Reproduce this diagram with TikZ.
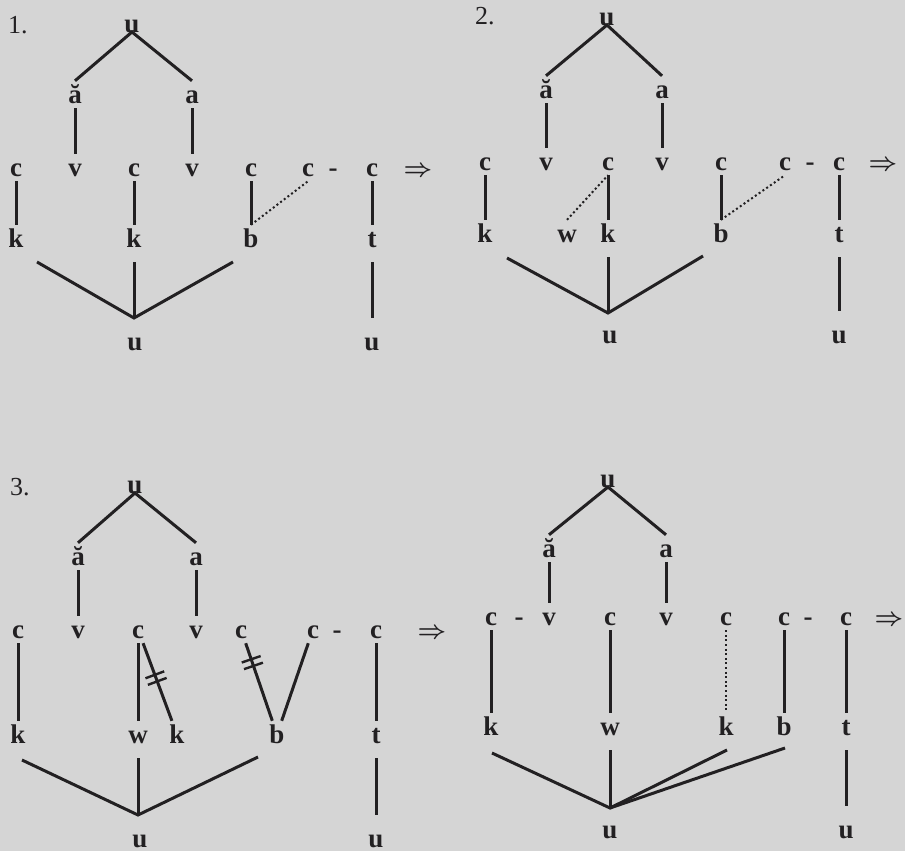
\documentclass[tikz,border=0pt]{standalone}
\usepackage{bm}
\usepackage{fontspec}
\setmainfont{Liberation Serif}
\usetikzlibrary{decorations.markings}
\definecolor{paper}{RGB}{213,213,213}
\definecolor{ink}{RGB}{34,32,34}
\newcommand{\impl}{{\fontsize{30}{30}\selectfont$\bm{\Rightarrow}$}}

\begin{document}
\begin{tikzpicture}[x=1pt, y=-1pt,
  seg/.style={anchor=base, text=ink, font=\fontsize{27}{30}\selectfont\bfseries,
    text height=17pt, text depth=0pt, inner xsep=1pt, inner ysep=5pt},
  num/.style={anchor=base west, text=ink, font=\fontsize{26}{30}\selectfont, inner sep=0pt},
  ln/.style={draw=ink, line width=3pt},
  dotline/.style={draw=ink, line width=2pt, dash pattern=on 2pt off 2.6pt},
  delink/.style={postaction={decorate}, decoration={markings,
    mark=at position #1 with {\draw[ink, line width=2.4pt]
      (-3.5pt,-10pt) -- (-3.5pt,10pt) (3.5pt,-10pt) -- (3.5pt,10pt);}}}
]
\fill[paper] (0,0) rectangle (905,851);
% Panel 1
\node[num] (N1) at (8,33) {1.};
\node[seg] (U1) at (132,32) {u};
\node[seg] (A1a) at (75,103) {ă};
\node[seg] (A1b) at (192,103) {a};
\node[seg] (C1a) at (16,176) {c};
\node[seg] (V1a) at (75,176) {v};
\node[seg] (C1b) at (134,176) {c};
\node[seg] (V1b) at (192,176) {v};
\node[seg] (C1c) at (251,176) {c};
\node[seg] (C1d) at (308,176) {c};
\node[seg] (H1) at (333,176) {-};
\node[seg] (C1e) at (372,176) {c};
\node[seg] (R1) at (418,176) {\impl};
\node[seg] (K1a) at (16,247) {k};
\node[seg] (K1b) at (134,247) {k};
\node[seg] (B1) at (251,247) {b};
\node[seg] (T1) at (372,247) {t};
\node[seg] (D1a) at (135,350) {u};
\node[seg] (D1b) at (372,350) {u};
\coordinate (P1) at (134,318);
\coordinate (E1a) at (37,262);
\coordinate (E1b) at (233,262);
\draw[ln] (A1a.north) -- (U1.base) -- (A1b.north);
\draw[ln] (A1a) -- (V1a);
\draw[ln] (A1b) -- (V1b);
\draw[ln] (C1a) -- (K1a);
\draw[ln] (C1b) -- (K1b);
\draw[ln] (C1c) -- (B1);
\draw[ln] (C1e) -- (T1);
\draw[dotline] (B1.north) -- (C1d.south);
\draw[ln] (E1a) -- (P1) -- (E1b);
\draw[ln, shorten <=10pt] (K1b) -- (P1);
\draw[ln, shorten <=10pt, shorten >=10pt] (T1) -- (D1b);
% Panel 2
\node[num] (N2) at (475,24) {2.};
\node[seg] (U2) at (607,25) {u};
\node[seg] (A2a) at (546,98) {ă};
\node[seg] (A2b) at (662,98) {a};
\node[seg] (C2a) at (485,170) {c};
\node[seg] (V2a) at (546,170) {v};
\node[seg] (C2b) at (608,170) {c};
\node[seg] (V2b) at (662,170) {v};
\node[seg] (C2c) at (721,170) {c};
\node[seg] (C2d) at (785,170) {c};
\node[seg] (H2) at (810,170) {-};
\node[seg] (C2e) at (839,170) {c};
\node[seg] (R2) at (883,170) {\impl};
\node[seg] (K2a) at (485,242) {k};
\node[seg] (W2) at (567,242) {w};
\node[seg] (K2b) at (608,242) {k};
\node[seg] (B2) at (721,242) {b};
\node[seg] (T2) at (839,242) {t};
\node[seg] (D2a) at (610,343) {u};
\node[seg] (D2b) at (839,343) {u};
\coordinate (P2) at (608,313);
\coordinate (E2a) at (507,258);
\coordinate (E2b) at (703,256);
\draw[ln] (A2a.north) -- (U2.base) -- (A2b.north);
\draw[ln] (A2a) -- (V2a);
\draw[ln] (A2b) -- (V2b);
\draw[ln] (C2a) -- (K2a);
\draw[ln] (C2b) -- (K2b);
\draw[ln] (C2c) -- (B2);
\draw[ln] (C2e) -- (T2);
\draw[dotline] (W2.north) -- (C2b.south);
\draw[dotline] (B2.north) -- (C2d.south);
\draw[ln] (E2a) -- (P2) -- (E2b);
\draw[ln, shorten <=10pt] (K2b) -- (P2);
\draw[ln, shorten <=10pt, shorten >=10pt] (T2) -- (D2b);
% Panel 3
\node[num] (N3) at (10,495) {3.};
\node[seg] (U3) at (135,493) {u};
\node[seg] (A3a) at (78,565) {ă};
\node[seg] (A3b) at (196,565) {a};
\node[seg] (C3a) at (18,638) {c};
\node[seg] (V3a) at (78,638) {v};
\node[seg] (C3b) at (138,638) {c};
\node[seg] (V3b) at (196,638) {v};
\node[seg] (C3c) at (241,638) {c};
\node[seg] (C3d) at (313,638) {c};
\node[seg] (H3) at (337,638) {-};
\node[seg] (C3e) at (376,638) {c};
\node[seg] (R3) at (432,638) {\impl};
\node[seg] (K3a) at (18,743) {k};
\node[seg] (W3) at (138,743) {w};
\node[seg] (K3b) at (177,743) {k};
\node[seg] (B3) at (277,743) {b};
\node[seg] (T3) at (376,743) {t};
\node[seg] (D3a) at (140,847) {u};
\node[seg] (D3b) at (376,847) {u};
\coordinate (P3) at (138,815);
\coordinate (E3a) at (22,760);
\coordinate (E3b) at (258,757);
\draw[ln] (A3a.north) -- (U3.base) -- (A3b.north);
\draw[ln] (A3a) -- (V3a);
\draw[ln] (A3b) -- (V3b);
\draw[ln] (C3a) -- (K3a);
\draw[ln] (C3b) -- (W3);
\draw[ln, delink=0.45] (C3b) -- (K3b);
\draw[ln, delink=0.25] (C3c) -- (B3);
\draw[ln] (C3d) -- (B3);
\draw[ln] (C3e) -- (T3);
\draw[ln] (E3a) -- (P3) -- (E3b);
\draw[ln, shorten <=10pt] (W3) -- (P3);
\draw[ln, shorten <=10pt, shorten >=10pt] (T3) -- (D3b);
% Panel 4
\node[seg] (U4) at (608,487) {u};
\node[seg] (A4a) at (549,557) {ă};
\node[seg] (A4b) at (666,557) {a};
\node[seg] (C4a) at (491,625) {c};
\node[seg] (H4a) at (519,625) {-};
\node[seg] (V4a) at (549,625) {v};
\node[seg] (C4b) at (610,625) {c};
\node[seg] (V4b) at (666,625) {v};
\node[seg] (C4c) at (726,625) {c};
\node[seg] (C4d) at (784,625) {c};
\node[seg] (H4b) at (808,625) {-};
\node[seg] (C4e) at (846,625) {c};
\node[seg] (R4) at (889,625) {\impl};
\node[seg] (K4a) at (491,735) {k};
\node[seg] (W4) at (610,735) {w};
\node[seg] (K4b) at (726,735) {k};
\node[seg] (B4) at (784,735) {b};
\node[seg] (T4) at (846,735) {t};
\node[seg] (D4a) at (610,838) {u};
\node[seg] (D4b) at (846,838) {u};
\coordinate (P4) at (610,808);
\coordinate (E4a) at (492,753);
\coordinate (E4b) at (727,750);
\coordinate (E4c) at (785,748);
\draw[ln] (A4a.north) -- (U4.base) -- (A4b.north);
\draw[ln] (A4a) -- (V4a);
\draw[ln] (A4b) -- (V4b);
\draw[ln] (C4a) -- (K4a);
\draw[ln] (C4b) -- (W4);
\draw[dotline] (C4c) -- (K4b);
\draw[ln] (C4d) -- (B4);
\draw[ln] (C4e) -- (T4);
\draw[ln] (E4a) -- (P4) -- (E4b);
\draw[ln] (P4) -- (E4c);
\draw[ln, shorten <=10pt] (W4) -- (P4);
\draw[ln, shorten <=10pt, shorten >=10pt] (T4) -- (D4b);
\end{tikzpicture}
\end{document}
